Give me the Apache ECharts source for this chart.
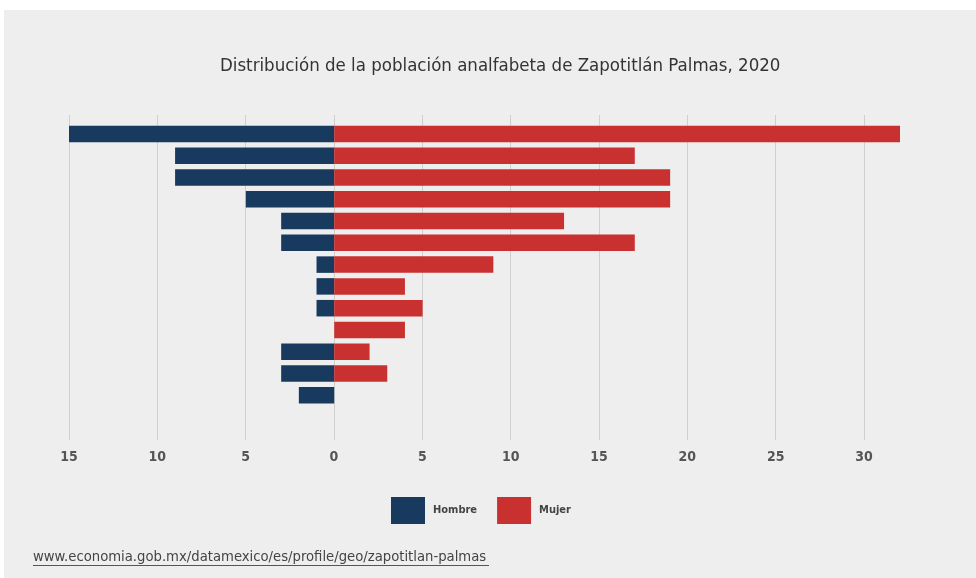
<!DOCTYPE html>
<html>
<head>
<meta charset="utf-8">
<script src="https://cdn.jsdelivr.net/npm/echarts@6/dist/echarts.min.js"></script>
<style>
html,body{margin:0;padding:0;background:#ffffff;}
#c{width:976px;height:578px;}
</style>
</head>
<body>
<div id="c"></div>
<script>
var categories = ["80+","75-79","70-74","65-69","60-64","55-59","50-54","45-49","40-44","35-39","30-34","25-29","20-24","15-19"];
var hombre = [15, 9, 9, 5, 3, 3, 1, 1, 1, 0, 3, 3, 2, 0];
var mujer  = [32, 17, 19, 19, 13, 17, 9, 4, 5, 4, 2, 3, 0, 0];

var NAVY = '#173a5e';
var RED = '#c8312f';
var FONT = '"Liberation Sans Narrow", "DejaVu Sans Condensed", "Roboto", sans-serif';

var chart = echarts.init(document.getElementById('c'));
var option = {
  backgroundColor: '#ffffff',
  animation: false,
  title: {
    text: 'Distribución de la población analfabeta de Zapotitlán Palmas, 2020',
    left: 215,
    top: 52,
    textStyle: {fontFamily: FONT, fontSize: 18.5, fontWeight: 'normal', color: '#333333'}
  },
  legend: {
    data: ['Hombre', 'Mujer'],
    left: 386,
    top: 492,
    itemWidth: 34,
    itemHeight: 27,
    itemGap: 20,
    icon: 'rect',
    selectedMode: false,
    itemStyle: {borderWidth: 0},
    textStyle: {fontFamily: FONT, fontSize: 11, fontWeight: 'bold', color: '#444444', padding: [0, 0, 0, 3]}
  },
  graphic: [
    {type: 'rect', z: -100, shape: {x: 4, y: 10, width: 972, height: 568}, style: {fill: '#eeeeee'}, silent: true},
    {type: 'text', left: 33, top: 550, style: {text: 'www.economia.gob.mx/datamexico/es/profile/geo/zapotitlan-palmas', fontFamily: FONT, fontSize: 14.7, fill: '#444444'}},
    {type: 'line', shape: {x1: 33, y1: 565.5, x2: 489, y2: 565.5}, style: {stroke: '#555555', lineWidth: 1}}
  ],
  grid: [
    {left: 69, width: 795, top: 115, height: 325},
    {left: 69, width: 831, top: 123, height: 305}
  ],
  xAxis: [
    {
      gridIndex: 0, type: 'value', min: -15, max: 30, interval: 5,
      axisLine: {show: false}, axisTick: {show: false},
      splitLine: {show: true, lineStyle: {color: '#cfcfcf', width: 1}},
      axisLabel: {
        margin: 10, fontFamily: FONT, fontSize: 14, fontWeight: 'bold', color: '#555555',
        formatter: function (v) { return String(Math.abs(v)); }
      }
    },
    {
      gridIndex: 1, type: 'value', min: -15, max: 32,
      axisLine: {show: false}, axisTick: {show: false},
      splitLine: {show: false}, axisLabel: {show: false}
    }
  ],
  yAxis: [
    {gridIndex: 0, type: 'category', data: categories, show: false},
    {gridIndex: 1, type: 'category', data: categories, inverse: true, show: false}
  ],
  series: [
    {
      name: 'Hombre', type: 'bar', xAxisIndex: 1, yAxisIndex: 1, stack: 'a',
      data: hombre.map(function (v) { return -v; }),
      barWidth: 16.5,
      itemStyle: {color: NAVY}
    },
    {
      name: 'Mujer', type: 'bar', xAxisIndex: 1, yAxisIndex: 1, stack: 'b',
      data: mujer,
      barWidth: 16.5, barGap: '-100%',
      itemStyle: {color: RED}
    }
  ]
};
chart.setOption(option);
</script>
</body>
</html>
